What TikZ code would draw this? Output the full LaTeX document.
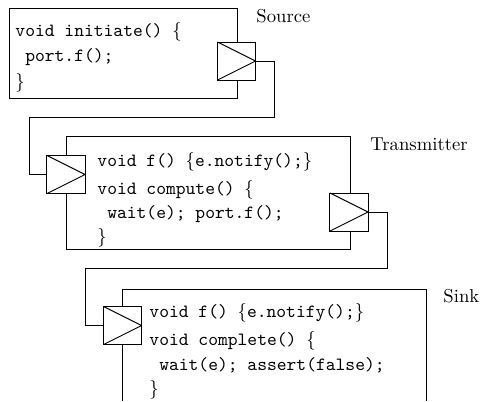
\documentclass[tikz,border=0pt]{standalone}
\usepackage{tikz}

\tikzset{every picture/.style={line width=0.5pt}}
\tikzset{
  portbox/.style={draw, fill=white, inner sep=0pt, minimum size=20.4pt,
    path picture={\draw (path picture bounding box.north west) -- (path picture bounding box.east) -- (path picture bounding box.south west);}},
  code/.style={anchor=base west, inner sep=0pt, font=\ttfamily},
  title/.style={anchor=base west, inner sep=0pt}
}

\begin{document}
\begin{tikzpicture}[x=0.5357pt,y=0.5357pt,yscale=-1,xscale=1]
\useasboundingbox (0,0) rectangle (480,401);

%Shape: Rectangle [Source]
\draw   (9,8) -- (237,8) -- (237,98) -- (9,98) -- cycle ;
%Shape: Rectangle [Transmitter]
\draw   (66,136) -- (350,136) -- (350,249) -- (66,249) -- cycle ;
%Shape: Rectangle [Sink], open at the bottom
\draw   (122,401) -- (122,289) -- (426,289) -- (426,401) ;

%Ports
\draw (236.5,61) node (srcout) [portbox] {};
\draw (66,174.5) node (txin) [portbox] {};
\draw (349,212) node (txout) [portbox] {};
\draw (122.5,325.5) node (snkin) [portbox] {};

%Connectors
\draw (txin.west) -- ++(-17,0) |- (274,117) |- (srcout.east) ;
\draw (snkin.west) -- ++(-18,0) |- (387,268) |- (txout.east) ;

% Text Node
\draw (256,22) node (srclbl) [title] {Source};
\draw (370,150) node (txlbl) [title] {Transmitter};
\draw (443,302) node (snklbl) [title] {Sink};

% Source code
\draw (15,36) node (src1) [code] {void initiate() $\{$};
\draw (15,61.5) node (src2) [code] {\ port.f();};
\draw (15,87) node (src3) [code] {$\}$};

% Transmitter code
\draw (97,166) node (tx1) [code] {void f() $\{$e.notify();$\}$};
\draw (97,194) node (tx2) [code] {void compute() $\{$};
\draw (97,218) node (tx3) [code] {\ wait(e); port.f();};
\draw (97,242) node (tx4) [code] {$\}$};

% Sink code
\draw (149,317) node (snk1) [code] {void f() $\{$e.notify();$\}$};
\draw (149,345) node (snk2) [code] {void complete() $\{$};
\draw (149,370) node (snk3) [code] {\ wait(e); assert(false);};
\draw (149,394) node (snk4) [code] {$\}$};

\end{tikzpicture}
\end{document}
